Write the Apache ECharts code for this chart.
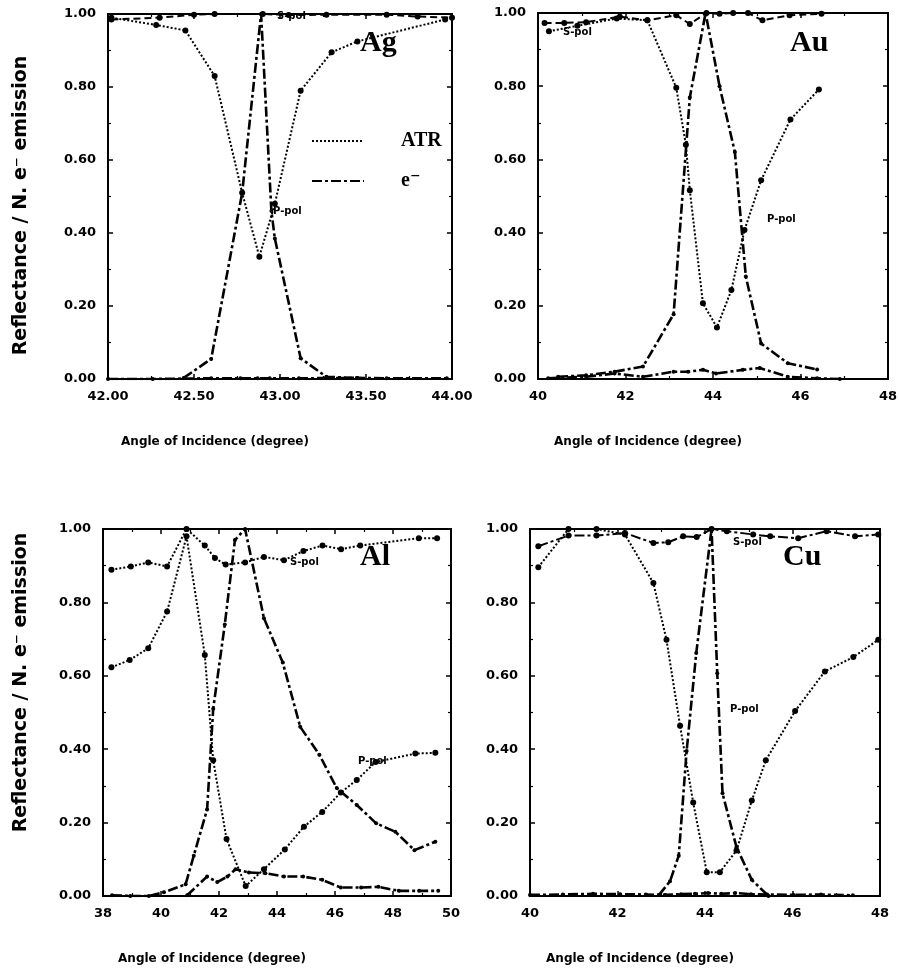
<!DOCTYPE html>
<html>
<head>
<meta charset="utf-8">
<script src="https://cdn.jsdelivr.net/npm/echarts@6/dist/echarts.min.js"></script>
<style>
  html, body { margin: 0; padding: 0; background: #fff; }
  #chart { width: 899px; height: 977px; }
</style>
</head>
<body>
<div id="chart"></div>
<script>
// ---- Ag ----
const agAtrSX = [42.02, 42.30, 42.50, 42.62, 42.90, 43.05, 43.27, 43.62, 43.80, 44.00];
const agAtrSY = [0.985, 0.99, 0.998, 1.0, 1.0, 0.997, 0.998, 0.998, 0.993, 0.99];
const agAtrPX = [42.02, 42.28, 42.45, 42.62, 42.78, 42.88, 42.97, 43.12, 43.30, 43.45, 43.96];
const agAtrPY = [0.99, 0.97, 0.955, 0.83, 0.51, 0.335, 0.48, 0.79, 0.895, 0.925, 0.985];
const agElecPX = [42.44, 42.60, 42.78, 42.89, 42.95, 42.97, 43.12, 43.27, 43.45];
const agElecPY = [0.003, 0.055, 0.51, 1.0, 0.46, 0.385, 0.057, 0.006, 0.003];
const agElecSX = [42.00, 42.26, 42.60, 42.77, 42.87, 42.94, 43.11, 43.45, 43.62, 43.97];
const agElecSY = [0.0, 0.0, 0.002, 0.002, 0.002, 0.002, 0.002, 0.003, 0.002, 0.002];

// ---- Au ----
const auAtrSX = [40.15, 40.60, 41.10, 41.87, 42.50, 43.16, 43.47, 43.85, 44.15, 44.46, 44.80, 45.13, 45.75, 46.48];
const auAtrSY = [0.973, 0.973, 0.975, 0.99, 0.98, 0.994, 0.97, 1.0, 0.998, 1.0, 1.0, 0.98, 0.994, 0.998];
const auAtrPX = [40.25, 40.90, 41.80, 42.50, 43.16, 43.38, 43.47, 43.77, 44.09, 44.42, 44.72, 45.10, 45.77, 46.42];
const auAtrPY = [0.95, 0.965, 0.985, 0.98, 0.796, 0.64, 0.516, 0.207, 0.141, 0.243, 0.407, 0.543, 0.709, 0.791];
const auElecPX = [40.46, 41.10, 41.75, 42.40, 43.10, 43.47, 43.83, 44.15, 44.50, 44.75, 45.10, 45.71, 46.38];
const auElecPY = [0.006, 0.01, 0.02, 0.034, 0.177, 0.769, 1.0, 0.80, 0.62, 0.28, 0.097, 0.043, 0.026];
const auElecSX = [40.23, 41.10, 41.75, 42.40, 43.10, 43.43, 43.77, 44.07, 44.68, 45.07, 45.71, 46.38, 46.90];
const auElecSY = [0.002, 0.006, 0.015, 0.006, 0.02, 0.02, 0.025, 0.015, 0.025, 0.03, 0.006, 0.002, 0.0];

// ---- Al ----
const alAtrSX = [38.29, 38.96, 39.56, 40.21, 40.88, 41.51, 41.86, 42.23, 42.90, 43.55, 44.24, 44.91, 45.57, 46.21, 46.87, 48.89, 49.52];
const alAtrSY = [0.889, 0.898, 0.909, 0.898, 1.0, 0.955, 0.921, 0.903, 0.909, 0.924, 0.915, 0.94, 0.955, 0.945, 0.955, 0.975, 0.975];
const alAtrPX = [38.29, 38.92, 39.56, 40.21, 40.88, 41.51, 41.80, 42.26, 42.92, 43.55, 44.27, 44.93, 45.56, 46.20, 46.75, 47.40, 48.77, 49.46];
const alAtrPY = [0.623, 0.643, 0.675, 0.775, 0.98, 0.657, 0.37, 0.155, 0.027, 0.073, 0.127, 0.189, 0.229, 0.282, 0.316, 0.365, 0.388, 0.39];
const alElecPX = [38.31, 38.94, 39.58, 40.10, 40.85, 41.13, 41.59, 41.80, 42.20, 42.55, 42.90, 43.55, 44.20, 44.80, 45.46, 46.06, 46.75, 47.42, 48.08, 48.74, 49.46];
const alElecPY = [0.002, 0.0, 0.0, 0.01, 0.032, 0.11, 0.236, 0.51, 0.74, 0.97, 1.0, 0.757, 0.636, 0.461, 0.385, 0.294, 0.248, 0.198, 0.175, 0.125, 0.148];
const alElecSX = [40.90, 41.59, 41.94, 42.29, 42.57, 43.03, 43.60, 44.24, 44.90, 45.56, 46.20, 46.90, 47.50, 48.20, 48.90, 49.56];
const alElecSY = [0.002, 0.053, 0.038, 0.053, 0.073, 0.064, 0.062, 0.053, 0.053, 0.044, 0.023, 0.023, 0.025, 0.014, 0.014, 0.014];

// ---- Cu ----
const cuAtrSX = [40.19, 40.88, 41.52, 42.17, 42.82, 43.16, 43.50, 43.81, 44.15, 44.50, 45.10, 45.49, 46.13, 46.78, 47.43, 47.96];
const cuAtrSY = [0.953, 0.982, 0.982, 0.989, 0.962, 0.964, 0.98, 0.978, 1.0, 0.994, 0.985, 0.98, 0.975, 0.994, 0.98, 0.985];
const cuAtrPX = [40.19, 40.88, 41.52, 42.17, 42.82, 43.12, 43.43, 43.73, 44.04, 44.34, 44.72, 45.07, 45.39, 46.06, 46.74, 47.39, 47.96];
const cuAtrPY = [0.896, 1.0, 1.0, 0.985, 0.853, 0.698, 0.464, 0.255, 0.065, 0.065, 0.124, 0.26, 0.37, 0.504, 0.612, 0.651, 0.698];
const cuElecPX = [42.95, 43.20, 43.40, 43.58, 43.80, 44.15, 44.28, 44.40, 44.72, 45.07, 45.45];
const cuElecPY = [0.003, 0.04, 0.11, 0.395, 0.662, 1.0, 0.607, 0.28, 0.133, 0.044, 0.0];
const cuElecSX = [40.00, 40.75, 41.44, 42.06, 42.65, 43.09, 43.45, 43.77, 44.07, 44.37, 44.69, 45.05, 45.42, 46.03, 46.65, 47.38];
const cuElecSY = [0.003, 0.004, 0.006, 0.005, 0.004, 0.003, 0.005, 0.006, 0.008, 0.006, 0.008, 0.005, 0.004, 0.003, 0.004, 0.002];

const yTicks = [0, 1, 0.2];
const xAxisTitle = 'Angle of Incidence (degree)';
const yAxisTitle = 'Reflectance / N. e\u207B emission';

const pairs = (xs, ys) => xs.map((x, i) => [x, ys[i]]);

const SANS = '"DejaVu Sans", "Liberation Sans", sans-serif';
const SERIF = '"Liberation Serif", "DejaVu Serif", serif';

// yPad shifts the rotated y title along the axis (left pad = up, right pad = down)
const panels = [
    { grid: { left: 108, top: 14, width: 344, height: 365 }, x: [42, 44, 0.5], dec: 2, yTitle: true, yGap: 77, yPad: [0, 18, 0, 0] },
    { grid: { left: 538, top: 13, width: 350, height: 366 }, x: [40, 48, 2], dec: 0, yTitle: false, yGap: 0, yPad: 0 },
    { grid: { left: 103, top: 529, width: 348, height: 367 }, x: [38, 50, 2], dec: 0, yTitle: true, yGap: 72, yPad: [0, 0, 0, 60] },
    { grid: { left: 530, top: 529, width: 350, height: 367 }, x: [40, 48, 2], dec: 0, yTitle: false, yGap: 0, yPad: 0 }
];

const tickLabel = { color: '#000', fontFamily: SANS, fontWeight: 'bold', fontSize: 13 };
const frameLine = { onZero: false, lineStyle: { color: '#000', width: 2 } };

const grids = [], xAxes = [], yAxes = [];
panels.forEach((p, i) => {
    grids.push({
        ...p.grid, show: true, borderColor: '#000', borderWidth: 2, backgroundColor: '#fff',
        containLabel: false, outerBoundsMode: 'none'
    });
    const xBase = {
        type: 'value', gridIndex: i, min: p.x[0], max: p.x[1], interval: p.x[2],
        axisLine: frameLine, splitLine: { show: false },
        axisTick: { inside: true, length: 5, lineStyle: { color: '#000', width: 1.5 } },
        minorTick: { show: true, splitNumber: 2, length: 3, lineStyle: { color: '#000', width: 1.2 } }
    };
    xAxes.push({
        ...xBase, position: 'bottom',
        axisLabel: { ...tickLabel, margin: 11, formatter: v => v.toFixed(p.dec) },
        name: xAxisTitle, nameLocation: 'middle', nameGap: 57,
        nameTextStyle: { color: '#000', fontFamily: SANS, fontWeight: 'bold', fontSize: 12, padding: [0, 130, 0, 0] }
    });
    xAxes.push({ ...xBase, position: 'top', axisLabel: { show: false } });
    const yBase = {
        type: 'value', gridIndex: i, min: yTicks[0], max: yTicks[1], interval: yTicks[2],
        axisLine: frameLine, splitLine: { show: false },
        axisTick: { inside: true, length: 5, lineStyle: { color: '#000', width: 1.5 } },
        minorTick: { show: true, splitNumber: 2, length: 3, lineStyle: { color: '#000', width: 1.2 } }
    };
    yAxes.push({
        ...yBase, position: 'left',
        axisLabel: { ...tickLabel, margin: 12, formatter: v => v.toFixed(2) },
        name: p.yTitle ? yAxisTitle : '', nameLocation: 'middle', nameGap: p.yGap,
        nameTextStyle: { color: '#000', fontFamily: SANS, fontWeight: 'bold', fontSize: 19, padding: p.yPad }
    });
    yAxes.push({ ...yBase, position: 'right', axisLabel: { show: false } });
});

const DOTTED = 'dotted';
const DASHED = [7, 4];
const DASHDOT = [10, 3, 3, 3];

function atr(name, xs, ys, i, type) {
    return {
        name, type: 'line', xAxisIndex: i * 2, yAxisIndex: i * 2, data: pairs(xs, ys),
        symbol: 'circle', symbolSize: 6, itemStyle: { color: '#000' },
        lineStyle: { color: '#000', width: 2, type: type || DOTTED }, z: 3
    };
}
function elec(name, xs, ys, i) {
    return {
        name, type: 'line', xAxisIndex: i * 2, yAxisIndex: i * 2, data: pairs(xs, ys),
        symbol: 'circle', symbolSize: 4, itemStyle: { color: '#000' },
        lineStyle: { color: '#000', width: 2.6, type: DASHDOT }, z: 4
    };
}

const series = [
    atr('Ag S-pol ATR', agAtrSX, agAtrSY, 0, DASHED),
    atr('ATR', agAtrPX, agAtrPY, 0),
    elec('e\u207B', agElecPX, agElecPY, 0),
    elec('Ag S-pol e', agElecSX, agElecSY, 0),

    atr('Au S-pol ATR', auAtrSX, auAtrSY, 1, DASHED),
    atr('Au P-pol ATR', auAtrPX, auAtrPY, 1),
    elec('Au P-pol e', auElecPX, auElecPY, 1),
    elec('Au S-pol e', auElecSX, auElecSY, 1),

    atr('Al S-pol ATR', alAtrSX, alAtrSY, 2),
    atr('Al P-pol ATR', alAtrPX, alAtrPY, 2),
    elec('Al P-pol e', alElecPX, alElecPY, 2),
    elec('Al S-pol e', alElecSX, alElecSY, 2),

    atr('Cu S-pol ATR', cuAtrSX, cuAtrSY, 3, DASHDOT),
    atr('Cu P-pol ATR', cuAtrPX, cuAtrPY, 3),
    elec('Cu P-pol e', cuElecPX, cuElecPY, 3),
    elec('Cu S-pol e', cuElecSX, cuElecSY, 3)
];

const small = { fill: '#000', font: 'bold 10px ' + SANS, textVerticalAlign: 'middle' };
const big = { fill: '#000', font: 'bold 30px ' + SERIF, textVerticalAlign: 'middle' };
const graphic = [
    { type: 'text', left: 277, top: 11, style: { ...small, text: 'S-pol' } },
    { type: 'text', left: 273, top: 206, style: { ...small, text: 'P-pol' } },
    { type: 'text', left: 360, top: 28, style: { ...big, text: 'Ag' } },
    { type: 'text', left: 563, top: 27, style: { ...small, text: 'S-pol' } },
    { type: 'text', left: 767, top: 214, style: { ...small, text: 'P-pol' } },
    { type: 'text', left: 790, top: 28, style: { ...big, text: 'Au' } },
    { type: 'text', left: 290, top: 557, style: { ...small, text: 'S-pol' } },
    { type: 'text', left: 358, top: 756, style: { ...small, text: 'P-pol' } },
    { type: 'text', left: 360, top: 542, style: { ...big, text: 'Al' } },
    { type: 'text', left: 733, top: 537, style: { ...small, text: 'S-pol' } },
    { type: 'text', left: 730, top: 704, style: { ...small, text: 'P-pol' } },
    { type: 'text', left: 783, top: 542, style: { ...big, text: 'Cu' } }
];

const chart = echarts.init(document.getElementById('chart'), null, { renderer: 'canvas' });
chart.setOption({
    animation: false,
    backgroundColor: '#fff',
    legend: {
        data: ['ATR', 'e\u207B'], orient: 'vertical', left: 306, top: 126,
        itemWidth: 52, itemHeight: 8, itemGap: 20,
        itemStyle: { opacity: 0 },
        textStyle: { color: '#000', fontFamily: SERIF, fontWeight: 'bold', fontSize: 20, padding: [0, 0, 0, 32] },
        selectedMode: false
    },
    grid: grids,
    xAxis: xAxes,
    yAxis: yAxes,
    series,
    graphic
});
window.addEventListener('resize', () => chart.resize());
</script>
</body>
</html>
